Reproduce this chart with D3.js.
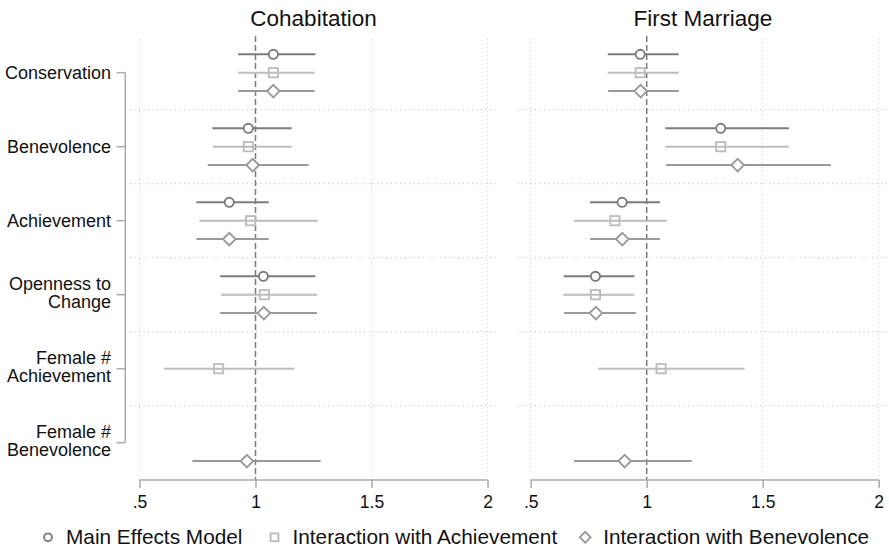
<!DOCTYPE html>
<html><head><meta charset="utf-8">
<script src="https://cdn.jsdelivr.net/npm/d3@7"></script>
<style>body{margin:0;background:#fff}svg{display:block;font-family:"Liberation Sans",Arial,Helvetica,sans-serif}</style>
</head><body><svg id="c" width="889" height="547"></svg>
<script>
const categories = ["Conservation","Benevolence","Achievement","Openness to\nChange","Female #\nAchievement","Female #\nBenevolence"];
const panels = ["Cohabitation","First Marriage"];
const seriesNames = ["Main Effects Model","Interaction with Achievement","Interaction with Benevolence"];
const xTicks = [0.5,1,1.5,2];
const xTickLabels = [".5","1","1.5","2"];

// Cohabitation
const cohabMain   = [1.077,0.969,0.887,1.034,null,null];
const cohabMainLo = [0.925,0.814,0.745,0.848,null,null];
const cohabMainHi = [1.258,1.156,1.057,1.258,null,null];
const cohabAch    = [1.077,0.969,0.979,1.038,0.841,null];
const cohabAchLo  = [0.925,0.816,0.758,0.851,0.606,null];
const cohabAchHi  = [1.255,1.156,1.268,1.265,1.167,null];
const cohabBen    = [1.077,0.988,0.887,1.036,null,0.963];
const cohabBenLo  = [0.925,0.794,0.745,0.848,null,0.728];
const cohabBenHi  = [1.255,1.229,1.057,1.265,null,1.281];
// First Marriage
const marrMain    = [0.972,1.319,0.894,0.779,null,null];
const marrMainLo  = [0.832,1.080,0.756,0.642,null,null];
const marrMainHi  = [1.138,1.613,1.057,0.947,null,null];
const marrAch     = [0.972,1.319,0.863,0.779,1.062,null];
const marrAchLo   = [0.832,1.080,0.685,0.641,0.791,null];
const marrAchHi   = [1.138,1.613,1.086,0.947,1.422,null];
const marrBen     = [0.974,1.392,0.895,0.781,null,0.905];
const marrBenLo   = [0.834,1.083,0.756,0.644,null,0.687];
const marrBenHi   = [1.138,1.793,1.057,0.953,null,1.194];

const panelData = [
  [[cohabMain,cohabMainLo,cohabMainHi],[cohabAch,cohabAchLo,cohabAchHi],[cohabBen,cohabBenLo,cohabBenHi]],
  [[marrMain,marrMainLo,marrMainHi],[marrAch,marrAchLo,marrAchHi],[marrBen,marrBenLo,marrBenHi]]
];

const colors = ["#7b7b7b","#bdbdbd","#999999"];
const shapes = ["circle","square","diamond"];
const svg = d3.select("#c");

const y = d3.scaleBand().domain(categories).range([35.7,479.7]);
const slot = 18.4;
const rowY = (ci,si) => y(categories[ci]) + y.bandwidth()/2 + (si-1)*slot;

const panelGeo = [
  {x: d3.scaleLinear().domain([0.5,2]).range([139.5,487.5]), left:130, right:497},
  {x: d3.scaleLinear().domain([0.5,2]).range([530.7,878.7]), left:517, right:889}
];

function marker(g, shape, cx, cy, color, s) {
  if (shape==="circle") g.append("circle").attr("cx",cx).attr("cy",cy).attr("r",4.6*s).attr("fill","#fff").attr("stroke",color).attr("stroke-width",1.9);
  else if (shape==="square") g.append("rect").attr("x",cx-4.6*s).attr("y",cy-4.6*s).attr("width",9.2*s).attr("height",9.2*s).attr("fill","none").attr("stroke",color).attr("stroke-width",1.9);
  else g.append("path").attr("d",`M${cx},${cy-6.3*s}L${cx+6.3*s},${cy}L${cx},${cy+6.3*s}L${cx-6.3*s},${cy}Z`).attr("fill","#fff").attr("stroke",color).attr("stroke-width",1.9);
}

panels.forEach((title,pi)=>{
  const {x,left,right} = panelGeo[pi];
  const g = svg.append("g");
  g.append("text").attr("x",(left+right)/2).attr("y",26).attr("text-anchor","middle").attr("font-size",22.5).attr("fill","#111").text(title);
  xTicks.filter(t=>t!==1).forEach(t=>{
    g.append("line").attr("x1",x(t)).attr("x2",x(t)).attr("y1",39).attr("y2",479.7).attr("stroke","#cfcfcf").attr("stroke-width",1).attr("stroke-dasharray","1,3");
  });
  categories.slice(1).forEach(c=>{
    g.append("line").attr("x1",left).attr("x2",right).attr("y1",y(c)).attr("y2",y(c)).attr("stroke","#b5b5b5").attr("stroke-width",1).attr("stroke-dasharray","1,3.5");
  });
  g.append("line").attr("x1",x(1)).attr("x2",x(1)).attr("y1",36).attr("y2",479.7).attr("stroke","#7a7a7a").attr("stroke-width",1.5).attr("stroke-dasharray","6,3");
  const ax = g.append("g").attr("transform","translate(0,480)").call(d3.axisBottom(x).tickValues(xTicks).tickFormat((d,i)=>xTickLabels[i]).tickSize(8).tickSizeOuter(0).tickPadding(8));
  ax.select(".domain").attr("stroke","#aaa").attr("stroke-width",1.5).attr("d",`M${x(0.5)},0H${x(2)}`);
  ax.selectAll(".tick line").attr("stroke","#aaa").attr("stroke-width",1.5);
  ax.selectAll(".tick text").attr("font-size",17.5).attr("fill","#111").attr("font-family","Liberation Sans, Arial, sans-serif");
  panelData[pi].forEach((ser,si)=>{
    const [est,lo,hi] = ser;
    est.forEach((v,ci)=>{
      if (v==null) return;
      const cy = rowY(ci,si);
      g.append("line").attr("x1",x(lo[ci])).attr("x2",x(hi[ci])).attr("y1",cy).attr("y2",cy).attr("stroke",colors[si]).attr("stroke-width",2);
      marker(g, shapes[si], x(v), cy, colors[si], 1);
    });
  });
});

// y axis
const ya = svg.append("g");
const yc = c => y(c)+y.bandwidth()/2;
ya.append("line").attr("x1",125.3).attr("x2",125.3).attr("y1",yc(categories[0])).attr("y2",yc(categories[categories.length-1])).attr("stroke","#aaa").attr("stroke-width",1.5);
categories.forEach(c=>{
  const cy = yc(c);
  ya.append("line").attr("x1",116.7).attr("x2",125.3).attr("y1",cy).attr("y2",cy).attr("stroke","#aaa").attr("stroke-width",1.5);
  const lines = c.split("\n");
  const t = ya.append("text").attr("text-anchor","end").attr("font-size",18).attr("fill","#111");
  if (lines.length===1) {
    t.attr("x",111).attr("y",cy+5.8).text(lines[0]);
  } else {
    t.attr("y",cy-4.6);
    lines.forEach((l,i)=>{
      t.append("tspan").attr("x",111).attr("dy",i===0?0:18).text(l);
    });
  }
});

// legend
const lg = svg.append("g");
let lx = 43;
const legendGaps = [27, 23];
seriesNames.forEach((n,si)=>{
  marker(lg, shapes[si], lx+5, 537.3, colors[si], 0.85);
  const t = lg.append("text").attr("x",lx+23).attr("y",544).attr("font-size",20.8).attr("fill","#111").text(n);
  lx = lx + 23 + t.node().getComputedTextLength() + (legendGaps[si] || 0);
});
</script></body></html>
